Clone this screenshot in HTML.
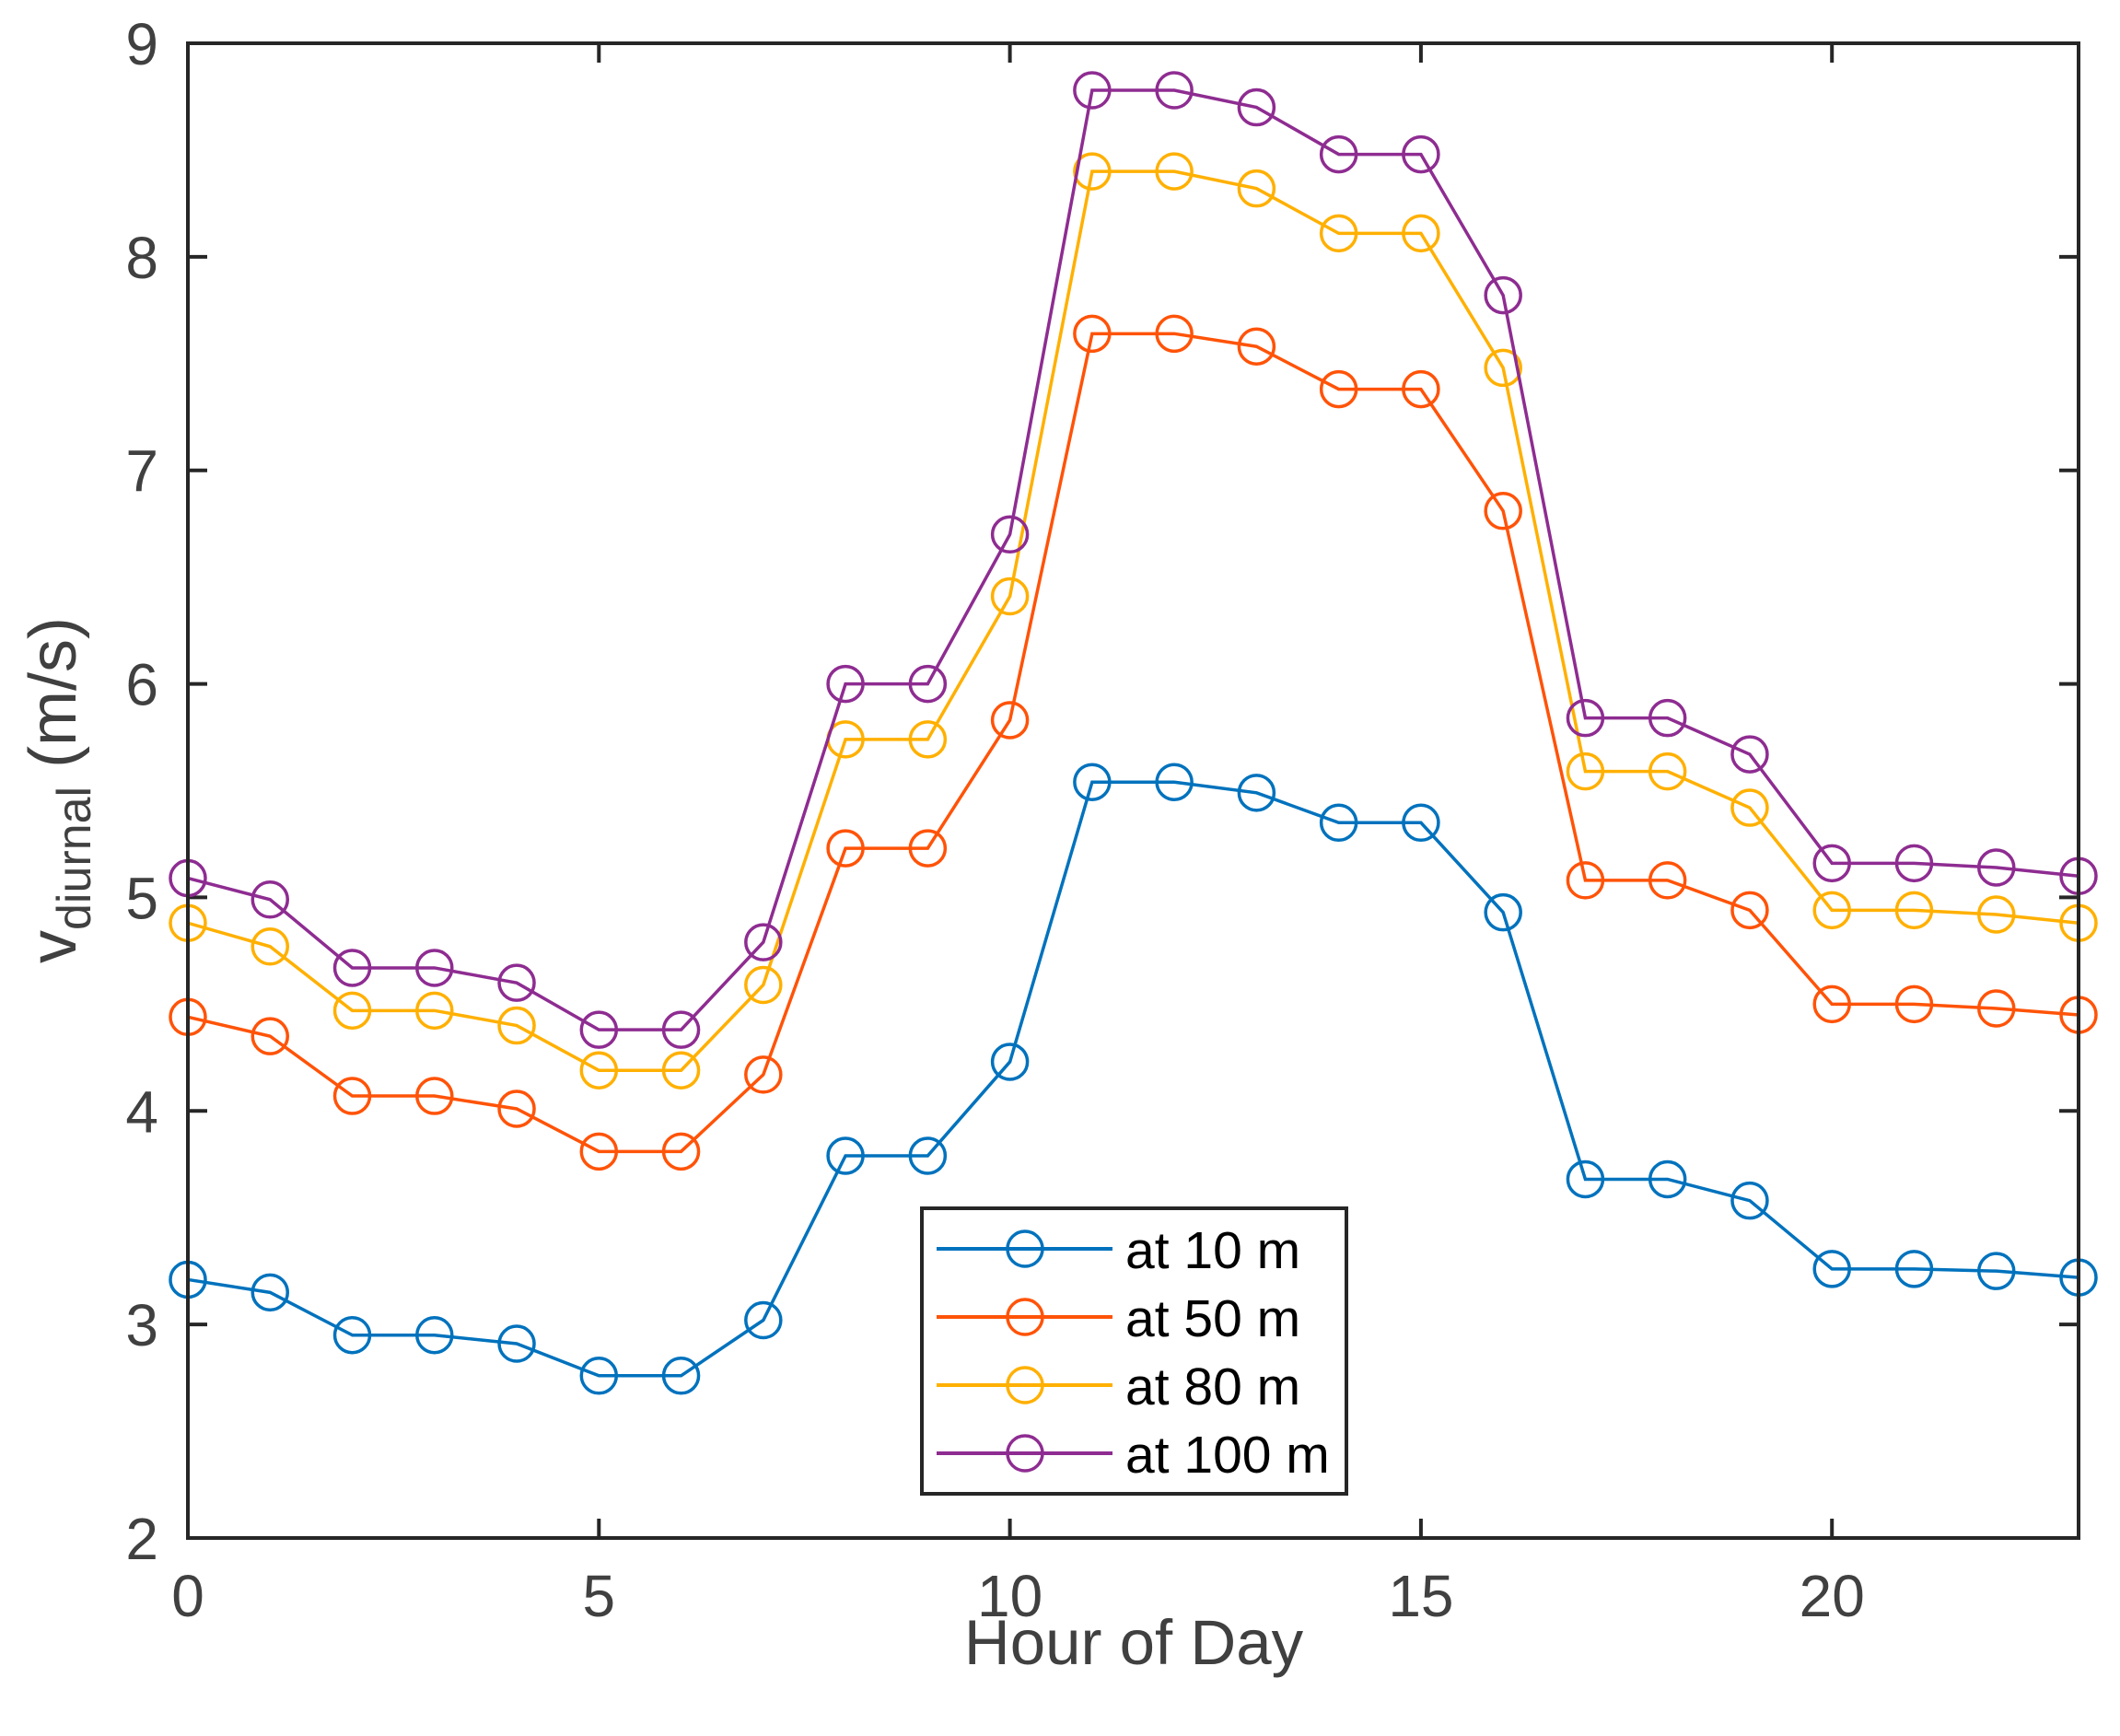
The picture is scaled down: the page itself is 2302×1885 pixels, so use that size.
<!DOCTYPE html>
<html><head><meta charset="utf-8"><style>
body{margin:0;background:#fff}
svg text{font-family:"Liberation Sans",sans-serif}
</style></head><body>
<svg id="chart" width="2302" height="1880" xmlns="http://www.w3.org/2000/svg">
<rect width="2302" height="1880" fill="#fff"/>
<g id="plot"></g>
</svg>
<script>
const hours=[0,1,2,3,4,5,6,7,8,9,10,11,12,13,14,15,16,17,18,19,20,21,22,23];
const s10=[3.21,3.15,2.95,2.95,2.91,2.76,2.76,3.02,3.79,3.79,4.23,5.54,5.54,5.49,5.35,5.35,4.93,3.68,3.68,3.58,3.26,3.26,3.25,3.22];
const s50=[4.44,4.35,4.07,4.07,4.01,3.81,3.81,4.17,5.23,5.23,5.83,7.64,7.64,7.58,7.38,7.38,6.81,5.08,5.08,4.94,4.50,4.50,4.48,4.45];
const s80=[4.88,4.77,4.47,4.47,4.40,4.19,4.19,4.59,5.74,5.74,6.41,8.40,8.40,8.32,8.11,8.11,7.48,5.59,5.59,5.42,4.94,4.94,4.92,4.88];
const s100=[5.09,4.99,4.67,4.67,4.60,4.38,4.38,4.79,6.00,6.00,6.70,8.78,8.78,8.70,8.48,8.48,7.82,5.84,5.84,5.67,5.16,5.16,5.14,5.10];
const seriesNames=["at 10 m","at 50 m","at 80 m","at 100 m"];
const xTicks=[0,5,10,15,20];
const yTicks=[2,3,4,5,6,7,8,9];

const L=204,R=2257,T=47,B=1670;
const xMin=0,xMax=23,yMin=2,yMax=9;
const X=v=>L+(v-xMin)/(xMax-xMin)*(R-L);
const Y=v=>B-(v-yMin)/(yMax-yMin)*(B-T);
const NS="http://www.w3.org/2000/svg";
const g=document.getElementById('plot');
function mk(tag,attrs,parent){const e=document.createElementNS(NS,tag);for(const k in attrs)e.setAttribute(k,attrs[k]);(parent||g).appendChild(e);return e;}

const axisCol="#262626", tickTxt="#404040";
xTicks.forEach(t=>{
  const ln=mk('line',{x1:X(t),x2:X(t),y1:B,y2:B-21,stroke:axisCol,'stroke-width':4});
  
  
  const ln2=mk('line',{x1:X(t),x2:X(t),y1:T,y2:T+21,stroke:axisCol,'stroke-width':4});
  
  
  const tx=mk('text',{x:X(t),y:B+85,'text-anchor':'middle','font-size':64,fill:tickTxt});
  tx.textContent=t;
  
  
});
yTicks.forEach(t=>{
  const ln=mk('line',{x1:L,x2:L+21,y1:Y(t),y2:Y(t),stroke:axisCol,'stroke-width':4});
  
  
  const ln2=mk('line',{x1:R,x2:R-21,y1:Y(t),y2:Y(t),stroke:axisCol,'stroke-width':4});
  
  
  const tx=mk('text',{x:L-32,y:Y(t)+23,'text-anchor':'end','font-size':64,fill:tickTxt});
  tx.textContent=t;
  
  
});

const colors=["#0072BD","#FF5308","#FFB000","#8E2C91"];
const all=[s10,s50,s80,s100];
all.forEach((s,i)=>{
  const pts=s.map((v,j)=>X(hours[j])+','+Y(v)).join(' ');
  const pl=mk('polyline',{points:pts,fill:'none',stroke:colors[i],'stroke-width':3.5});
  
  
  s.forEach((v,j)=>{
    const c=mk('circle',{cx:X(hours[j]),cy:Y(v),r:19,fill:'none',stroke:colors[i],'stroke-width':3.5});
    
    
  });
});

const box=mk('rect',{x:L,y:T,width:R-L,height:B-T,fill:'none',stroke:axisCol,'stroke-width':4});



const lg=mk('g',{});


mk('rect',{x:1001,y:1312,width:461,height:310,fill:'#fff',stroke:axisCol,'stroke-width':4},lg);
seriesNames.forEach((n,i)=>{
  const y=1356+i*74;
  const e=mk('g',{},lg);
  
  
  mk('line',{x1:1017,x2:1208,y1:y,y2:y,stroke:colors[i],'stroke-width':4},e);
  mk('circle',{cx:1113,cy:y,r:19,fill:'none',stroke:colors[i],'stroke-width':3.5},e);
  const t=mk('text',{x:1222,y:y+21,'font-size':57,fill:'#000'},e);
  t.textContent=n;
});

const xl=mk('text',{x:1231,y:1807,'text-anchor':'middle','font-size':69,fill:tickTxt});
xl.textContent='Hour of Day';


const yl=mk('text',{x:0,y:0,'text-anchor':'middle','font-size':72,fill:tickTxt,transform:'translate(82,858) rotate(-90)'});


yl.innerHTML='v<tspan dy="16" font-size="52">diurnal</tspan><tspan dy="-16"> (m/s)</tspan>';
</script>
</body></html>
